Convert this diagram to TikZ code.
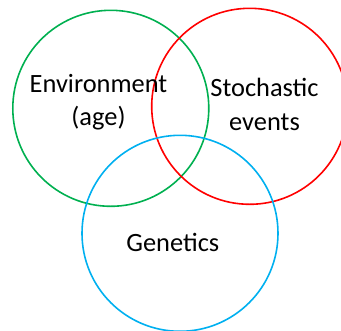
\documentclass[tikz,border=0pt]{standalone}
\usepackage{fontspec}
\setmainfont{Carlito}
\usetikzlibrary{positioning}
\definecolor{envgreen}{RGB}{0,176,80}
\definecolor{stored}{RGB}{255,0,0}
\definecolor{genblue}{RGB}{0,176,240}

\begin{document}
\begin{tikzpicture}[x=1bp,y=-1bp,
    set/.style={circle, draw, line width=1.6bp, minimum size=196bp, inner sep=0pt},
    lbl/.style={inner sep=0pt, align=center, font=\fontsize{26.5}{33.5}\selectfont}]
  \useasboundingbox (0,0) rectangle (341,331);

  \node[set, draw=envgreen] (env) at (110.8,108.3) {};
  \node[set, draw=stored] (sto) at (249.7,106.3) {};
  \node[set, draw=genblue] (gen) at (180,233.3) {};

  \node[lbl] (env_t) at (98.5,102) {Environment\\(age)};
  \node[lbl] (sto_t) at (264.5,104.5) {Stochastic\\events};
  \node[lbl, anchor=base] (gen_t) at (172.8,251.7) {Genetics};

\end{tikzpicture}
\end{document}
